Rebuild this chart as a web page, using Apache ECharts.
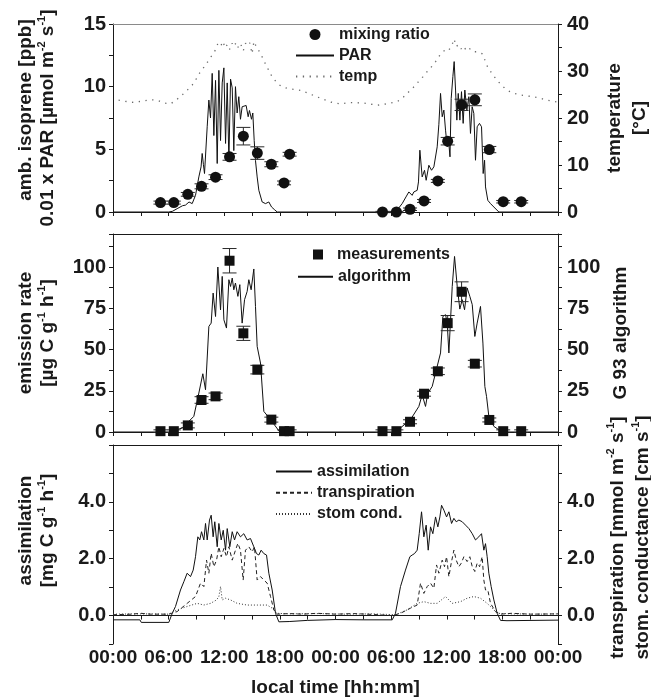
<!DOCTYPE html>
<html>
<head>
<meta charset="utf-8">
<script src="https://cdn.jsdelivr.net/npm/echarts@6.0.0/dist/echarts.min.js"></script>
<style>
  html, body { margin: 0; padding: 0; background: #fff; }
  #chart { width: 651px; height: 697px; }
</style>
</head>
<body>
<div id="chart"></div>
<script>
// Sampling times (hours since midnight of day 1) of the isoprene samples
const sampleHours = [5.12, 6.56, 8.07, 9.55, 11.06, 12.57, 14.06, 15.57, 17.08, 18.45, 19.05,
                     29.07, 30.57, 32.04, 33.55, 35.04, 36.1, 37.6, 39.03, 40.59, 42.09, 44.03];

// Ambient isoprene mixing ratio [ppb] and its standard deviation
const mixingRatio = [0.75, 0.75, 1.41, 2.05, 2.78, 4.4, 6.05, 4.7, 3.81, 2.32, 4.61,
                     0, 0, 0.22, 0.88, 2.48, 5.65, 8.55, 8.95, 4.98, 0.82, 0.82];
const mixingErr = [0.12, 0.12, 0.15, 0.2, 0.19, 0.27, 0.7, 0.5, 0.2, 0.15, 0.15,
                   0.05, 0.05, 0.1, 0.12, 0.12, 0.3, 0.45, 0.47, 0.25, 0.1, 0.1];

// Measured emission rate [µg C g-1 h-1] and its standard deviation
const emission = [0.5, 0.5, 4, 19.4, 21.6, 103.8, 59.8, 37.8, 7.5, 0.5, 0.5,
                  0.5, 0.5, 6.2, 23.2, 36.8, 66, 85, 41.4, 7.3, 0.5, 0.5];
const emissionErr = [0.8, 0.8, 1.5, 2, 2, 7.4, 4.3, 2.6, 1.5, 0.8, 0.8,
                     0.8, 0.8, 1.2, 1.5, 2, 4.6, 6, 2, 1.2, 0.8, 0.8];

// 0.01 x PAR [µmol m-2 s-1], [hour, value]
const parLine = [
  [0, 0], [6.0, 0], [6.4, 0.05], [7.0, 0.3], [7.5, 0.5], [7.82, 0.55], [8.2, 0.8], [8.54, 0.67], [8.9, 1.33],
  [9.26, 2.8], [9.5, 3.6], [9.62, 4.67], [9.75, 3.8], [9.87, 3.07], [10.0, 3.0], [10.16, 6.8], [10.34, 8.93],
  [10.52, 7.5], [10.7, 11.06], [10.88, 6.1], [11.06, 10.5], [11.24, 3.87], [11.42, 11.3], [11.6, 5.7],
  [11.78, 10.3], [11.96, 11.5], [12.14, 5.47], [12.32, 10.3], [12.5, 4.1], [12.68, 10.6], [12.86, 9.9],
  [13.03, 4.9], [13.21, 10.0], [13.39, 7.9], [13.57, 9.2], [13.75, 7.4], [13.93, 8.4], [14.11, 8.5],
  [14.36, 8.5], [14.58, 7.6], [14.72, 8.1], [14.94, 7.4], [15.08, 7.9], [15.23, 5.7], [15.37, 4.1],
  [15.55, 2.8], [15.73, 1.73], [16.09, 0.8], [16.45, 0.67], [16.81, 0.8], [16.95, 0.95], [17.1, 0.4],
  [17.4, 0.2], [17.71, 0],
  [30.3, 0], [30.8, 0.3], [31.19, 0.67], [31.6, 1.2], [31.91, 1.6], [32.27, 1.33], [32.45, 1.6], [32.81, 1.73],
  [32.95, 2.4], [33.1, 4.93], [33.35, 2.8], [33.6, 3.33], [33.78, 2.53], [34.07, 3.73], [34.36, 3.33],
  [34.61, 3.6], [34.97, 5.2], [35.15, 7.0], [35.33, 9.46], [35.51, 7.6], [35.69, 8.13], [35.87, 6.53],
  [36.05, 5.2], [36.2, 5.7], [36.35, 4.4], [36.48, 9.06], [36.66, 10.8], [36.8, 12.0], [36.95, 9.73],
  [37.09, 7.33], [37.24, 9.46], [37.42, 7.33], [37.59, 9.6], [37.77, 7.07], [37.95, 9.73], [38.17, 8.13],
  [38.38, 9.2], [38.56, 6.27], [38.74, 8.4], [38.92, 7.87], [39.1, 4.13], [39.28, 6.8], [39.53, 7.07],
  [39.75, 6.8], [39.93, 3.07], [40.08, 4.13], [40.18, 2.0], [40.43, 0.93], [40.72, 0.67], [41.08, 0.4],
  [41.62, 0], [48, 0]
];

// Air temperature [°C], [hour, value]
const tempLine = [
  [0.6, 23.8], [1.5, 23.5], [2.25, 23.3], [3.2, 23.6], [4.0, 23.9], [4.77, 23.8], [5.5, 23.2], [6.2, 23.0],
  [6.8, 23.8], [7.46, 24.9], [8.0, 25.9], [8.54, 27.0], [9.0, 28.4], [9.44, 29.9], [9.9, 31.0], [10.33, 32.3],
  [10.7, 33.4], [11.06, 34.5], [11.3, 35.8], [11.6, 35.2], [11.85, 36.3], [12.1, 34.9], [12.35, 35.7],
  [12.6, 34.6], [12.85, 35.9], [13.03, 35.2], [13.3, 36.1], [13.55, 34.8], [13.8, 35.6], [14.05, 34.3],
  [14.3, 35.9], [14.5, 35.4], [14.75, 36.0], [15.0, 33.7], [15.2, 36.3], [15.5, 35.0], [15.9, 33.8],
  [16.25, 32.3], [16.6, 30.9], [17.1, 29.0], [17.7, 27.4], [18.2, 26.7], [18.8, 26.3], [19.5, 26.1],
  [20.2, 25.9], [21.0, 25.3], [22.0, 24.5], [22.8, 23.9], [23.5, 23.4], [24.5, 23.0], [25.5, 23.3],
  [27.05, 23.2], [28.5, 22.7], [29.5, 23.0], [30.66, 23.5], [31.2, 24.2], [31.7, 25.2], [32.3, 26.3],
  [32.8, 27.4], [33.4, 28.7], [33.9, 29.9], [34.4, 31.0], [34.8, 32.0], [35.2, 33.2], [35.5, 33.8],
  [35.85, 34.6], [36.2, 34.4], [36.5, 35.2], [36.8, 36.8], [37.0, 35.2], [37.3, 35.6], [37.55, 34.7],
  [37.8, 35.3], [38.1, 34.4], [38.4, 34.9], [38.8, 34.1], [39.3, 34.1], [39.8, 33.7], [40.1, 32.4],
  [40.4, 30.9], [40.9, 29.4], [41.4, 28.1], [41.9, 27.0], [42.5, 25.9], [43.2, 25.3], [43.96, 24.9],
  [44.7, 24.7], [45.4, 24.5], [46.1, 24.2], [46.8, 23.8], [47.9, 23.4]
];

// G 93 algorithm emission [µg C g-1 h-1], [hour, value]
const algorithmLine = [
  [0, 0], [6.02, 0], [7.46, 2.4], [8.72, 9.5], [9.26, 23.6], [9.69, 35.3], [9.98, 25.6], [10.34, 64],
  [10.59, 66], [10.8, 84.2], [11.06, 70], [11.31, 100], [11.6, 74], [11.78, 94.3], [11.96, 68],
  [12.24, 63], [12.5, 92.3], [12.68, 88.2], [12.86, 93.3], [13.03, 86.2], [13.21, 90.3], [13.47, 82.2],
  [13.68, 89.3], [13.93, 66], [14.19, 80.2], [14.47, 85.2], [14.65, 92.3], [14.9, 86.2], [15.19, 98.8],
  [15.37, 76], [15.55, 51.9], [15.91, 41.8], [16.27, 12.5], [16.99, 7.5], [17.99, 0],
  [30.47, 0], [32.09, 7.5], [32.99, 15.5], [33.35, 22.6], [33.71, 15.5], [33.96, 23.6], [34.43, 27.6],
  [34.79, 35.8], [35.33, 47.9], [35.58, 70], [35.87, 71.1], [36.05, 66], [36.23, 47.9], [36.59, 88.2],
  [36.84, 106.4], [37.13, 88.2], [37.41, 74.5], [37.67, 80.2], [37.92, 74.1], [38.2, 87.3], [38.49, 82.2],
  [38.75, 77.2], [39.03, 57.9], [39.28, 66], [39.64, 76.1], [39.9, 53.9], [40.11, 27.6], [40.29, 21.6],
  [40.54, 9.5], [41.08, 3.4], [41.98, 0], [48, 0]
];

// Assimilation [mg C g-1 h-1], [hour, value]
const assimilationLine = [
  [0, -0.15], [2.9, -0.15], [3.05, -0.24], [6.02, -0.24], [6.39, 0.08], [6.74, 0.32], [7.28, 0.9],
  [7.64, 1.19], [8.0, 1.49], [8.36, 1.37], [8.65, 1.6], [8.9, 2.07], [9.15, 2.77], [9.36, 2.66],
  [9.55, 2.95], [9.8, 2.66], [9.98, 3.24], [10.16, 2.66], [10.41, 3.36], [10.59, 3.53], [10.8, 2.77],
  [10.98, 3.3], [11.24, 2.42], [11.42, 3.24], [11.67, 2.66], [11.89, 3.0], [12.14, 2.3], [12.32, 3.06],
  [12.6, 2.42], [12.86, 2.95], [13.11, 2.66], [13.39, 2.95], [13.75, 2.77], [14.11, 2.88], [14.47, 2.66],
  [14.83, 2.71], [15.19, 2.42], [15.48, 2.18], [15.73, 2.13], [15.98, 2.3], [16.27, 2.18], [16.56, 2.13],
  [16.81, 1.49], [17.17, 0.9], [17.53, 0.08], [17.89, -0.22], [19.0, -0.21], [20.95, -0.17],
  [24.0, -0.14], [27.0, -0.15], [30.12, -0.15],
  [30.47, 0.08], [31.01, 1.02], [31.55, 1.6], [32.02, 2.07], [32.27, 2.13], [32.52, 2.18], [32.81, 2.3],
  [33.03, 2.88], [33.28, 3.65], [33.53, 2.77], [33.78, 3.18], [34.0, 2.3], [34.25, 3.12], [34.5, 2.88],
  [34.79, 3.47], [35.04, 3.12], [35.26, 3.47], [35.44, 3.88], [35.69, 3.71], [35.98, 3.47], [36.23, 3.65],
  [36.52, 3.24], [36.77, 3.42], [37.02, 3.3], [37.31, 3.36], [37.67, 3.3], [38.03, 3.18], [38.39, 3.06],
  [38.75, 2.88], [39.1, 2.66], [39.46, 2.77], [39.75, 2.88], [40.0, 2.3], [40.18, 2.53], [40.36, 2.07],
  [40.54, 1.49], [40.79, 1.02], [41.08, 0.55], [41.44, 0.08], [41.8, -0.17], [42.5, -0.18], [48, -0.16]
];

// Transpiration [mmol m-2 s-1], [hour, value]
const transpirationLine = [
  [0, 0.03], [2, 0.05], [3, 0.08], [4, 0.05], [6.02, 0.05], [6.92, 0.14], [8.0, 0.43], [8.9, 0.67],
  [9.44, 1.14], [9.8, 1.02], [10.09, 1.95], [10.34, 1.49], [10.59, 2.19], [10.88, 1.72], [11.17, 1.95],
  [11.42, 2.42], [11.67, 2.07], [11.96, 2.36], [12.24, 2.07], [12.5, 2.42], [12.86, 1.95], [13.21, 2.3],
  [13.47, 2.54], [13.75, 2.3], [14.04, 1.25], [14.29, 2.3], [14.65, 2.42], [15.01, 2.24], [15.26, 2.42],
  [15.55, 1.25], [15.91, 1.37], [16.27, 1.25], [16.63, 1.14], [16.99, 0.67], [17.35, 0.2], [17.71, 0.05],
  [19, 0.07], [20.5, 0.05], [22, 0.08], [24, 0.05], [26, 0.07], [28, 0.04], [30.12, 0.0],
  [31.01, 0.08], [32.09, 0.26], [32.81, 0.37], [33.17, 1.14], [33.53, 0.78], [33.89, 1.02], [34.25, 1.14],
  [34.61, 0.96], [34.9, 1.78], [35.15, 1.49], [35.51, 1.95], [35.76, 1.72], [35.98, 2.07], [36.23, 1.37],
  [36.48, 1.84], [36.77, 2.3], [37.02, 1.95], [37.31, 1.72], [37.56, 1.84], [37.85, 2.07], [38.2, 1.9],
  [38.49, 2.07], [38.75, 1.72], [39.03, 1.55], [39.28, 1.84], [39.54, 1.72], [39.82, 2.07], [40.0, 1.25],
  [40.18, 0.9], [40.43, 0.9], [40.72, 0.43], [41.26, 0.14], [41.8, 0.05], [43, 0.08], [45, 0.05], [48, 0.06]
];

// Stomatal conductance [cm s-1], [hour, value]
const stomCondLine = [
  [0, 0.05], [3, 0.06], [6.02, 0.05], [6.92, 0.2], [8.0, 0.32], [9.08, 0.43], [9.8, 0.37], [10.52, 0.43],
  [11.17, 0.55], [11.42, 0.67], [11.6, 1.02], [11.78, 0.55], [12.14, 0.61], [12.68, 0.55], [13.39, 0.43],
  [14.47, 0.37], [15.55, 0.37], [16.63, 0.37], [17.17, 0.26], [17.71, 0.08], [19, 0.06], [22, 0.07],
  [25, 0.05], [28, 0.06], [30.5, 0.03], [31.72, 0.2], [32.81, 0.43], [33.53, 0.49], [34.25, 0.43],
  [34.97, 0.43], [35.87, 0.67], [36.59, 0.43], [37.49, 0.49], [38.2, 0.61], [38.92, 0.67], [39.64, 0.61],
  [40.36, 0.43], [40.9, 0.26], [41.44, 0.08], [43, 0.06], [46, 0.05], [48, 0.06]
];

// ---------------------------------------------------------------------------
const FONT = "'Liberation Sans', Arial, Helvetica, sans-serif";
const INK = '#1a1a1a';

const toPoints = (vals) => sampleHours.map((h, i) => [h, vals[i]]);
const toErrBars = (vals, errs) => sampleHours.map((h, i) => [h, vals[i] - errs[i], vals[i] + errs[i]]);

// vertical error bar with wide caps
function errorBar(params, api) {
  const x = api.value(0);
  const lo = api.coord([x, api.value(1)]);
  const hi = api.coord([x, api.value(2)]);
  const cap = 7;
  const st = { stroke: '#2a2a2a', lineWidth: 1 };
  return {
    type: 'group',
    children: [
      { type: 'line', shape: { x1: lo[0], y1: lo[1], x2: hi[0], y2: hi[1] }, style: st },
      { type: 'line', shape: { x1: lo[0] - cap, y1: lo[1], x2: lo[0] + cap, y2: lo[1] }, style: st },
      { type: 'line', shape: { x1: hi[0] - cap, y1: hi[1], x2: hi[0] + cap, y2: hi[1] }, style: st }
    ]
  };
}

const xLabelStyle = { fontSize: 19, fontWeight: 'bold', fontFamily: FONT, color: INK };
const yLabelStyle = { fontSize: 20, fontWeight: 'bold', fontFamily: FONT, color: INK };
const titleA = { fontSize: 19, fontWeight: 'bold', fontFamily: FONT, color: INK, lineHeight: 22 };
const titleRich = {
  a: titleA,
  // first line of the top-left title sits a little higher
  b: Object.assign({}, titleA, { padding: [0, 0, 0, 16] }),
  s: { fontSize: 11, fontWeight: 'bold', fontFamily: FONT, color: INK, lineHeight: 12, verticalAlign: 'top' }
};
const wideRich = Object.assign({}, titleRich, { a: Object.assign({}, titleA, { lineHeight: 25 }) });

const hourLabel = (v) => (v % 6 === 0 ? String(v % 24).padStart(2, '0') + ':00' : '');

function timeAxis(grid, extra) {
  return Object.assign({
    type: 'value', gridIndex: grid, min: 0, max: 48, interval: 3, position: 'bottom',
    axisLine: { show: true, onZero: false, lineStyle: { color: INK, width: 1 } },
    axisTick: { show: true, length: 4, lineStyle: { color: INK, width: 1 } },
    axisLabel: { show: false },
    splitLine: { show: false }
  }, extra || {});
}
function frameAxis(grid, color) {
  return {
    type: 'value', gridIndex: grid, min: 0, max: 48, position: 'top',
    axisLine: { show: true, onZero: false, lineStyle: { color: color, width: 1 } },
    axisTick: { show: false }, axisLabel: { show: false }, splitLine: { show: false }
  };
}
function valueAxis(grid, side, min, max, interval, labelFn, name, nameGap, nameExtra) {
  return {
    type: 'value', gridIndex: grid, position: side, min: min, max: max, interval: interval,
    axisLine: { show: true, onZero: false, lineStyle: { color: INK, width: 1 } },
    axisTick: { show: true, length: 4, lineStyle: { color: INK, width: 1 } },
    axisLabel: Object.assign({ margin: side === 'left' ? 7 : 9, formatter: labelFn }, yLabelStyle),
    splitLine: { show: false },
    name: name, nameLocation: 'middle', nameRotate: 90, nameGap: nameGap,
    nameTextStyle: Object.assign({ rich: titleRich }, nameExtra || {})
  };
}

const lbl = (step) => (v) => (Math.abs(v / step - Math.round(v / step)) < 1e-6 ? String(v) : '');
const lblList = (list) => (v) => (list.indexOf(v) >= 0 ? v.toFixed(1) : '');

const legendText = { fontSize: 16, fontWeight: 'bold', fontFamily: FONT, color: INK };
const lineOnly = (name) => ({ name: name, itemStyle: { opacity: 0 } });

const option = {
  backgroundColor: '#fff',
  animation: false,
  grid: [
    { left: 113, right: 93, top: 24, height: 188, outerBoundsMode: 'none' },
    { left: 113, right: 93, top: 234, height: 198, outerBoundsMode: 'none' },
    { left: 113, right: 93, top: 445, height: 199, outerBoundsMode: 'none' }
  ],
  xAxis: [
    timeAxis(0),
    frameAxis(0, '#8a8a8a'),
    timeAxis(1),
    frameAxis(1, INK),
    timeAxis(2, {
      axisLine: { show: false, onZero: false }, axisTick: { show: false },
      axisLabel: Object.assign({ show: true, margin: 4, formatter: hourLabel }, xLabelStyle),
      name: 'local time [hh:mm]', nameLocation: 'middle', nameGap: 34,
      nameTextStyle: { fontSize: 19, fontWeight: 'bold', fontFamily: FONT, color: INK }
    }),
    frameAxis(2, INK),
    timeAxis(2, { axisLine: { show: true, onZero: true, onZeroAxisIndex: 4, lineStyle: { color: INK, width: 1 } } })
  ],
  yAxis: [
    valueAxis(0, 'left', 0, 15, 2.5, lbl(5),
      '{b|amb. isoprene [ppb]}\n{a|0.01 x PAR [µmol m}{s|-2}{a| s}{s|-1}{a|]}', 54.5),
    valueAxis(0, 'right', 0, 40, 5, lbl(10), '{a|temperature}\n{a|[°C]}', 44.5, { rich: wideRich }),
    valueAxis(1, 'left', 0, 120, 12.5, lbl(25),
      '{a|emission rate}\n{a|[µg C g}{s|-1}{a| h}{s|-1}{a|]}', 54.5),
    valueAxis(1, 'right', 0, 120, 12.5, lbl(25), '{a|G 93 algorithm}', 48.5),
    valueAxis(2, 'left', -1, 6, 1, lblList([0, 2, 4]),
      '{a|assimilation}\n{a|[mg C g}{s|-1}{a| h}{s|-1}{a|]}', 54.5, { padding: [0, 0, 0, 28] }),
    valueAxis(2, 'right', -1, 6, 1, lblList([0, 2, 4]),
      '{a|transpiration [mmol m}{s|-2}{a| s}{s|-1}{a|]}\n{a|stom. conductance [cm s}{s|-1}{a|]}', 43,
      { padding: [0, 0, 0, 14], rich: wideRich })
  ],
  legend: [
    { data: ['mixing ratio', lineOnly('PAR'), lineOnly('temp')], orient: 'vertical', left: 295, top: 24, padding: 0,
      itemGap: 0, itemWidth: 38, itemHeight: 11, selectedMode: false,
      textStyle: Object.assign({ lineHeight: 21 }, legendText) },
    { data: ['measurements'], orient: 'vertical', left: 313, top: 243.5, padding: 0,
      itemGap: 0, itemWidth: 10, itemHeight: 10, selectedMode: false,
      textStyle: Object.assign({ lineHeight: 22, padding: [0, 0, 0, 9] }, legendText) },
    { data: [lineOnly('algorithm')], orient: 'vertical', left: 297, top: 265.7, padding: 0,
      itemGap: 0, itemWidth: 35, itemHeight: 11, selectedMode: false,
      textStyle: Object.assign({ lineHeight: 22 }, legendText) },
    { data: [lineOnly('assimilation'), lineOnly('transpiration'), lineOnly('stom cond.')],
      orient: 'vertical', left: 275, top: 461, padding: 0,
      itemGap: 0, itemWidth: 36, itemHeight: 11, selectedMode: false,
      textStyle: Object.assign({ lineHeight: 21.2 }, legendText) }
  ],
  series: [
    { name: 'PAR', type: 'line', xAxisIndex: 0, yAxisIndex: 0, data: parLine, symbol: 'none',
      lineStyle: { color: '#111', width: 1 }, itemStyle: { color: '#111' }, z: 2 },
    { name: 'temp', type: 'line', xAxisIndex: 0, yAxisIndex: 1, data: tempLine, symbol: 'none',
      lineStyle: { color: '#6a6a6a', width: 1.3, type: [1.3, 5.5] }, itemStyle: { color: '#6a6a6a' }, z: 2 },
    { type: 'custom', xAxisIndex: 0, yAxisIndex: 0, renderItem: errorBar,
      encode: { x: 0, y: [1, 2] }, data: toErrBars(mixingRatio, mixingErr), z: 3 },
    { name: 'mixing ratio', type: 'scatter', xAxisIndex: 0, yAxisIndex: 0, data: toPoints(mixingRatio),
      symbol: 'circle', symbolSize: 11, itemStyle: { color: '#111', opacity: 1 }, z: 4 },

    { name: 'algorithm', type: 'line', xAxisIndex: 2, yAxisIndex: 3, data: algorithmLine, symbol: 'none',
      lineStyle: { color: '#111', width: 1 }, itemStyle: { color: '#111' }, z: 2 },
    { type: 'custom', xAxisIndex: 2, yAxisIndex: 2, renderItem: errorBar,
      encode: { x: 0, y: [1, 2] }, data: toErrBars(emission, emissionErr), z: 3 },
    { name: 'measurements', type: 'scatter', xAxisIndex: 2, yAxisIndex: 2, data: toPoints(emission),
      symbol: 'rect', symbolSize: 10, itemStyle: { color: '#111', opacity: 1 }, z: 4 },

    { name: 'assimilation', type: 'line', xAxisIndex: 4, yAxisIndex: 4, data: assimilationLine, symbol: 'none',
      lineStyle: { color: '#111', width: 1 }, itemStyle: { color: '#111' }, z: 2 },
    { name: 'transpiration', type: 'line', xAxisIndex: 4, yAxisIndex: 5, data: transpirationLine, symbol: 'none',
      lineStyle: { color: '#222', width: 1, type: [4, 3] }, itemStyle: { color: '#222' }, z: 2 },
    { name: 'stom cond.', type: 'line', xAxisIndex: 4, yAxisIndex: 5, data: stomCondLine, symbol: 'none',
      lineStyle: { color: '#333', width: 1, type: [1, 2] }, itemStyle: { color: '#333' }, z: 2 }
  ]
};

const chart = echarts.init(document.getElementById('chart'), null, { renderer: 'canvas' });
chart.setOption(option);
</script>
</body>
</html>
